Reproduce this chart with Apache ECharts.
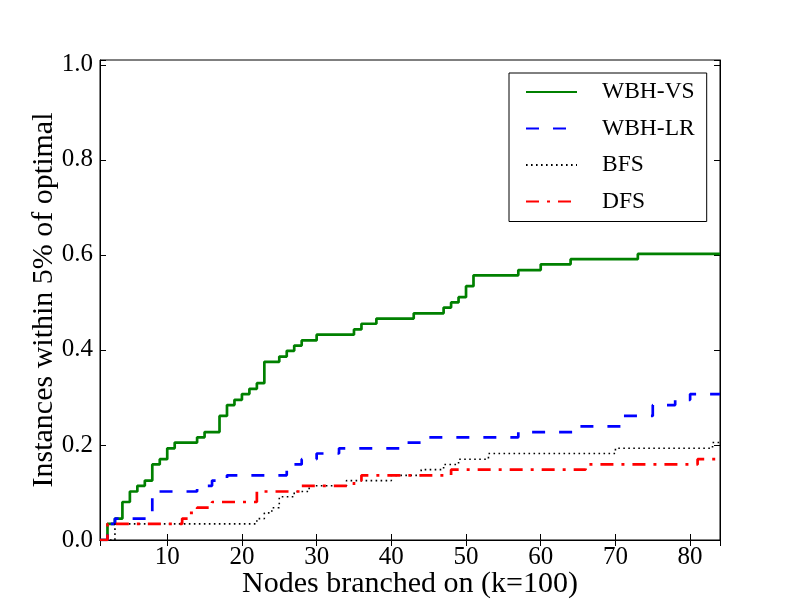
<!DOCTYPE html>
<html><head><meta charset="utf-8">
<script src="https://cdn.jsdelivr.net/npm/echarts@6/dist/echarts.min.js"></script>
<style>html,body{margin:0;padding:0;background:#fff}#c{width:800px;height:600px}</style>
</head><body><div id="c"></div><script>
// ---- data ----
const seriesNames = ['WBH-VS', 'WBH-LR', 'BFS', 'DFS'];
const xTickValues = [10, 20, 30, 40, 50, 60, 70, 80];
const yTickLabels = ['0.0', '0.2', '0.4', '0.6', '0.8', '1.0'];

const wbhVsX = [1,2,3,4,5,6,7,8,9,10,11,14,15,17,18,19,20,21,22,23,25,26,27,28,30,35,36,38,43,47,48,49,50,51,57,60,64,73,84];
const wbhVsY = [0,0.034,0.045,0.080,0.102,0.114,0.125,0.159,0.170,0.193,0.205,0.216,0.227,0.261,0.284,0.295,0.307,0.318,0.330,0.375,0.386,0.398,0.409,0.420,0.432,0.443,0.455,0.466,0.477,0.489,0.500,0.511,0.534,0.557,0.568,0.580,0.591,0.602,0.602];

const wbhLrX = [1,2,3,8,14,16,18,26,28,30,33,42,44,57,65,71,75,78,80,84];
const wbhLrY = [0,0.034,0.045,0.102,0.114,0.125,0.136,0.159,0.170,0.182,0.193,0.205,0.216,0.227,0.239,0.261,0.284,0.295,0.307,0.307];

const bfsX = [1,3,22,23,24,25,27,29,34,40,44,47,49,53,70,83,84];
const bfsY = [0,0.034,0.045,0.057,0.068,0.091,0.102,0.114,0.125,0.136,0.148,0.159,0.170,0.182,0.193,0.205,0.205];

const dfsX = [1,2,12,13,14,16,22,28,35,36,48,66,81,84];
const dfsY = [0,0.034,0.045,0.057,0.068,0.080,0.102,0.114,0.125,0.136,0.148,0.159,0.170,0.170];

// ---- chart ----
const FONT = 'Liberation Serif';
const pts = (xs, ys) => xs.map((x, i) => [x, ys[i]]);
const chart = echarts.init(document.getElementById('c'), null, {renderer: 'canvas'});

const xFmt = v => (xTickValues.indexOf(Math.round(v)) >= 0 && Math.abs(v - Math.round(v)) < 1e-6) ? String(Math.round(v)) : '';
const yFmt = v => { const s = v.toFixed(1); return (yTickLabels.indexOf(s) >= 0 && Math.abs(v * 5 - Math.round(v * 5)) < 1e-6) ? s : ''; };

const tickStyle = {show: true, inside: true, length: 6, lineStyle: {color: '#000', width: 1}};
const lineAx = {show: true, lineStyle: {color: '#000', width: 1}};

const xBase = {type: 'value', min: 1, max: 84, splitNumber: 8, minInterval: 10, maxInterval: 10,
  axisLine: lineAx, axisTick: tickStyle, splitLine: {show: false}};
const yBase = {type: 'value', min: 0, max: 1.01, interval: 0.2,
  axisLine: lineAx, axisTick: tickStyle, splitLine: {show: false}};

const option = {
  animation: false,
  backgroundColor: '#fff',
  grid: {left: 100, right: 80, top: 60, bottom: 60, show: true, borderColor: '#000', borderWidth: 1,
         containLabel: false, outerBoundsMode: 'none'},
  xAxis: [
    Object.assign({}, xBase, {position: 'bottom',
      name: 'Nodes branched on (k=100)', nameLocation: 'middle', nameGap: 29, nameMoveOverlap: false,
      nameTextStyle: {fontFamily: FONT, fontSize: 30, color: '#000'},
      axisLabel: {fontFamily: FONT, fontSize: 25, color: '#000', margin: 5, formatter: xFmt}}),
    Object.assign({}, xBase, {position: 'top', axisLabel: {show: false}})
  ],
  yAxis: [
    Object.assign({}, yBase, {position: 'left',
      name: 'Instances within 5% of optimal', nameLocation: 'middle', nameGap: 41, nameMoveOverlap: false,
      nameTextStyle: {fontFamily: FONT, fontSize: 30, color: '#000'},
      axisLabel: {fontFamily: FONT, fontSize: 25, color: '#000', margin: 7, formatter: yFmt}}),
    Object.assign({}, yBase, {position: 'right', axisLabel: {show: false}})
  ],
  legend: {
    orient: 'vertical', left: 509, top: 73,
    padding: [7, 12, 8, 16], itemWidth: 51, itemHeight: 20, itemGap: 12.5,
    backgroundColor: '#fff', borderColor: '#000', borderWidth: 1, borderRadius: 0,
    itemStyle: {opacity: 0, borderWidth: 0},
    textStyle: {fontFamily: FONT, fontSize: 23.5, color: '#000', padding: [0, 0, 0, 20]},
    data: seriesNames
  },
  series: [
    {name: seriesNames[0], type: 'line', step: 'end', symbol: 'none', data: pts(wbhVsX, wbhVsY),
     itemStyle: {color: '#008000'}, lineStyle: {color: '#008000', width: 2.7, type: 'solid'}},
    {name: seriesNames[1], type: 'line', step: 'end', symbol: 'none', data: pts(wbhLrX, wbhLrY),
     itemStyle: {color: '#0000ff'}, lineStyle: {color: '#0000ff', width: 2.7, type: [13, 14], cap: 'butt'}},
    {name: seriesNames[2], type: 'line', step: 'end', symbol: 'none', data: pts(bfsX, bfsY),
     itemStyle: {color: '#000000'}, lineStyle: {color: '#000000', width: 1.6, type: [1.6, 3.4], cap: 'butt'}},
    {name: seriesNames[3], type: 'line', step: 'end', symbol: 'none', data: pts(dfsX, dfsY),
     itemStyle: {color: '#ff0000'}, lineStyle: {color: '#ff0000', width: 2.7, type: [13, 8, 3, 8], cap: 'butt'}}
  ]
};
chart.setOption(option);
</script></body></html>
